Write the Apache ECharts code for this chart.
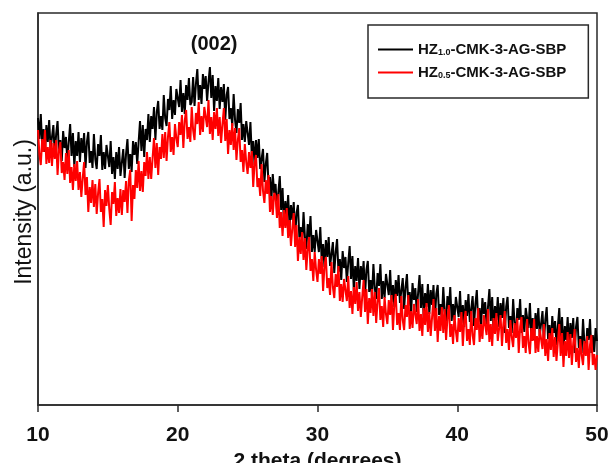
<!DOCTYPE html>
<html>
<head>
<meta charset="utf-8">
<style>
  html, body { margin: 0; padding: 0; background: #fff; }
  #chart { width: 610px; height: 463px; }
</style>
<script src="https://cdn.jsdelivr.net/npm/echarts@6/dist/echarts.min.js"></script>
</head>
<body>
<div id="chart"></div>
<script>
// scan setup (2 theta, degrees)
const scanStart = 10;
const scanStep = 0.1;
const xTicks = [10, 20, 30, 40, 50];

const seriesNames = ['HZ1.0-CMK-3-AG-SBP', 'HZ0.5-CMK-3-AG-SBP'];

// intensity (a.u.), one row per degree, 0.1 deg apart
const hz10 = [
  287,266,291,259,276,253,280,263,285,256,
  257,280,250,271,284,252,265,244,274,257,
  268,244,263,281,249,272,238,264,249,273,
  243,267,252,272,237,263,273,242,254,237,
  271,246,236,261,249,270,235,253,236,260,
  259,238,264,231,248,226,253,236,258,229,
  230,256,227,251,266,236,251,233,264,250,
  263,241,263,284,254,280,248,276,265,291,
  263,289,276,298,265,293,304,276,289,275,
  310,287,279,306,295,319,286,305,290,316,
  317,298,325,293,312,291,320,305,327,300,
  303,328,299,321,336,305,320,301,331,316,
  329,304,323,338,307,330,294,319,304,327,
  296,318,303,321,285,310,318,286,297,279,
  311,285,272,296,282,302,265,281,263,284,
  282,260,283,249,264,240,265,247,266,236,
  235,256,223,241,252,217,228,205,231,212,
  221,195,213,229,195,217,180,204,188,210,
  178,200,185,203,167,192,200,168,178,161,
  193,168,156,181,168,189,153,170,153,175,
  174,153,178,144,161,138,165,148,168,139,
  140,163,132,153,166,133,146,125,154,137,
  148,123,142,159,126,149,114,139,124,147,
  116,139,125,144,109,135,144,113,125,108,
  141,117,106,132,119,141,106,124,107,131,
  130,110,135,103,120,98,125,109,130,102,
  103,127,96,118,131,99,113,92,122,105,
  117,93,112,130,97,121,87,112,98,121,
  91,115,100,120,85,111,120,90,101,85,
  118,94,83,109,96,118,84,101,85,108,
  108,88,114,82,100,78,105,89,111,83,
  85,109,79,101,115,83,97,77,107,91,
  103,79,98,116,84,108,73,99,85,108,
  78,102,87,107,72,98,108,77,89,72,
  106,82,71,97,85,106,72,90,73,97,
  97,77,102,70,87,65,92,76,97,69,
  70,94,63,85,98,66,80,59,89,72,
  84,60,79,97,64,88,54,79,65,88,
  58,82,67,87,52,78,88,57,69,52,
  86,62,51,77,65,86,52,70,53,77,
  64
];

const hz05 = [
  275,251,240,266,253,275,241,258,242,265,
  239,262,246,265,230,255,263,232,243,225,
  252,231,255,222,238,215,241,224,244,215,
  233,208,227,243,210,228,193,218,202,225,
  198,221,191,212,226,193,206,178,215,199,
  220,196,180,213,201,223,189,207,192,216,
  190,215,203,224,192,224,235,184,220,206,
  235,217,244,214,234,213,243,229,253,226,
  248,226,247,267,237,262,230,258,246,271,
  247,273,244,268,283,253,268,250,281,267,
  258,283,270,290,257,284,295,266,278,263,
  298,275,265,292,281,303,270,289,273,298,
  299,278,305,271,288,265,293,276,297,269,
  288,262,281,297,264,286,251,275,260,282,
  255,277,245,265,277,243,255,233,261,243,
  231,253,237,254,218,242,250,218,227,209,
  241,214,202,225,211,230,193,209,190,212,
  209,187,211,177,193,169,195,177,197,167,
  185,159,177,192,158,180,144,168,151,173,
  145,167,135,156,168,134,146,124,153,135,
  123,146,131,149,114,139,148,117,127,110,
  143,118,107,131,118,139,104,121,103,126,
  125,104,129,97,114,91,118,101,123,94,
  113,88,108,125,93,116,81,107,92,116,
  89,113,82,104,117,85,99,78,108,91,
  81,105,90,110,75,101,111,80,92,75,
  109,85,75,100,88,110,76,94,77,101,
  101,81,106,74,91,69,97,80,102,73,
  93,69,88,106,74,97,63,89,74,98,
  72,96,65,87,100,68,81,61,90,74,
  63,87,73,93,59,84,94,64,76,60,
  94,70,60,87,75,97,63,81,66,90,
  90,70,96,63,81,59,87,71,92,64,
  66,90,59,81,94,62,76,55,85,68,
  58,82,67,87,52,78,88,57,69,52,
  86,62,51,77,64,86,52,69,53,76,
  76,56,81,49,66,44,72,55,77,48,
  68,44,63,81,49,72,38,64,49,73,
  47,71,40,62,76,43,57,37,66,50,
  40,64,49,69,35,60,70,40,51,35,
  50
];

// peak label
const peakLabel = '(002)';
const peakPos = [22.6, 361];

const FONT = 'Arial, "Liberation Sans", sans-serif';

function toPairs(vals) {
  return vals.map((v, i) => [+(scanStart + i * scanStep).toFixed(2), v]);
}

const chart = echarts.init(document.getElementById('chart'));

chart.setOption({
  animation: false,
  backgroundColor: '#fff',
  grid: {
    left: 38, right: 13, top: 13, bottom: 58,
    containLabel: false,
    outerBoundsMode: 'none',
    show: true, borderColor: '#2a2a2a', borderWidth: 1.5
  },
  legend: {
    orient: 'vertical',
    left: 368, top: 25,
    icon: 'rect',
    itemWidth: 35, itemHeight: 2,
    itemGap: 8, itemTextGap: 13,
    padding: [17, 22, 18, 10],
    borderColor: '#2a2a2a', borderWidth: 1.5,
    data: seriesNames,
    formatter: name => {
      const sub = name.slice(2, 5);
      return '{b|HZ}{s|' + sub + '}{b|' + name.slice(5) + '}';
    },
    textStyle: {
      rich: {
        b: { fontFamily: FONT, fontWeight: 'bold', fontSize: 15, color: '#111' },
        s: { fontFamily: FONT, fontWeight: 'bold', fontSize: 9, color: '#111', verticalAlign: 'bottom' }
      }
    }
  },
  xAxis: {
    type: 'value',
    min: 10, max: 50, interval: 10,
    name: '2 theta (degrees)',
    nameLocation: 'middle',
    nameGap: 35,
    nameTextStyle: { fontFamily: FONT, fontWeight: 'bold', fontSize: 21, color: '#111' },
    axisLine: { show: true, onZero: false, lineStyle: { color: '#2a2a2a', width: 1.5 } },
    axisTick: { show: true, inside: false, length: 7, lineStyle: { color: '#2a2a2a', width: 1.5 } },
    axisLabel: {
      margin: 20,
      fontFamily: FONT, fontWeight: 'bold', fontSize: 21, color: '#111',
      customValues: xTicks
    },
    splitLine: { show: false }
  },
  yAxis: {
    type: 'value',
    min: 0, max: 392,
    name: 'Intensity (a.u.)',
    nameLocation: 'middle',
    nameGap: 2,
    nameTextStyle: { fontFamily: FONT, fontSize: 23, color: '#111', padding: [0, 6, 0, 0] },
    axisLine: { show: true, lineStyle: { color: '#2a2a2a', width: 1.5 } },
    axisTick: { show: false },
    axisLabel: { show: false },
    splitLine: { show: false }
  },
  series: [
    {
      name: seriesNames[0],
      type: 'line',
      data: toPairs(hz10),
      showSymbol: false, symbol: 'none',
      lineStyle: { color: '#000', width: 2 },
      itemStyle: { color: '#000' },
      markPoint: {
        symbol: 'circle', symbolSize: 0,
        label: {
          show: true, position: 'inside', formatter: peakLabel,
          fontFamily: FONT, fontWeight: 'bold', fontSize: 20, color: '#111'
        },
        data: [{ coord: peakPos }]
      }
    },
    {
      name: seriesNames[1],
      type: 'line',
      data: toPairs(hz05),
      showSymbol: false, symbol: 'none',
      lineStyle: { color: '#ff0000', width: 2 },
      itemStyle: { color: '#ff0000' }
    }
  ]
});
</script>
</body>
</html>
